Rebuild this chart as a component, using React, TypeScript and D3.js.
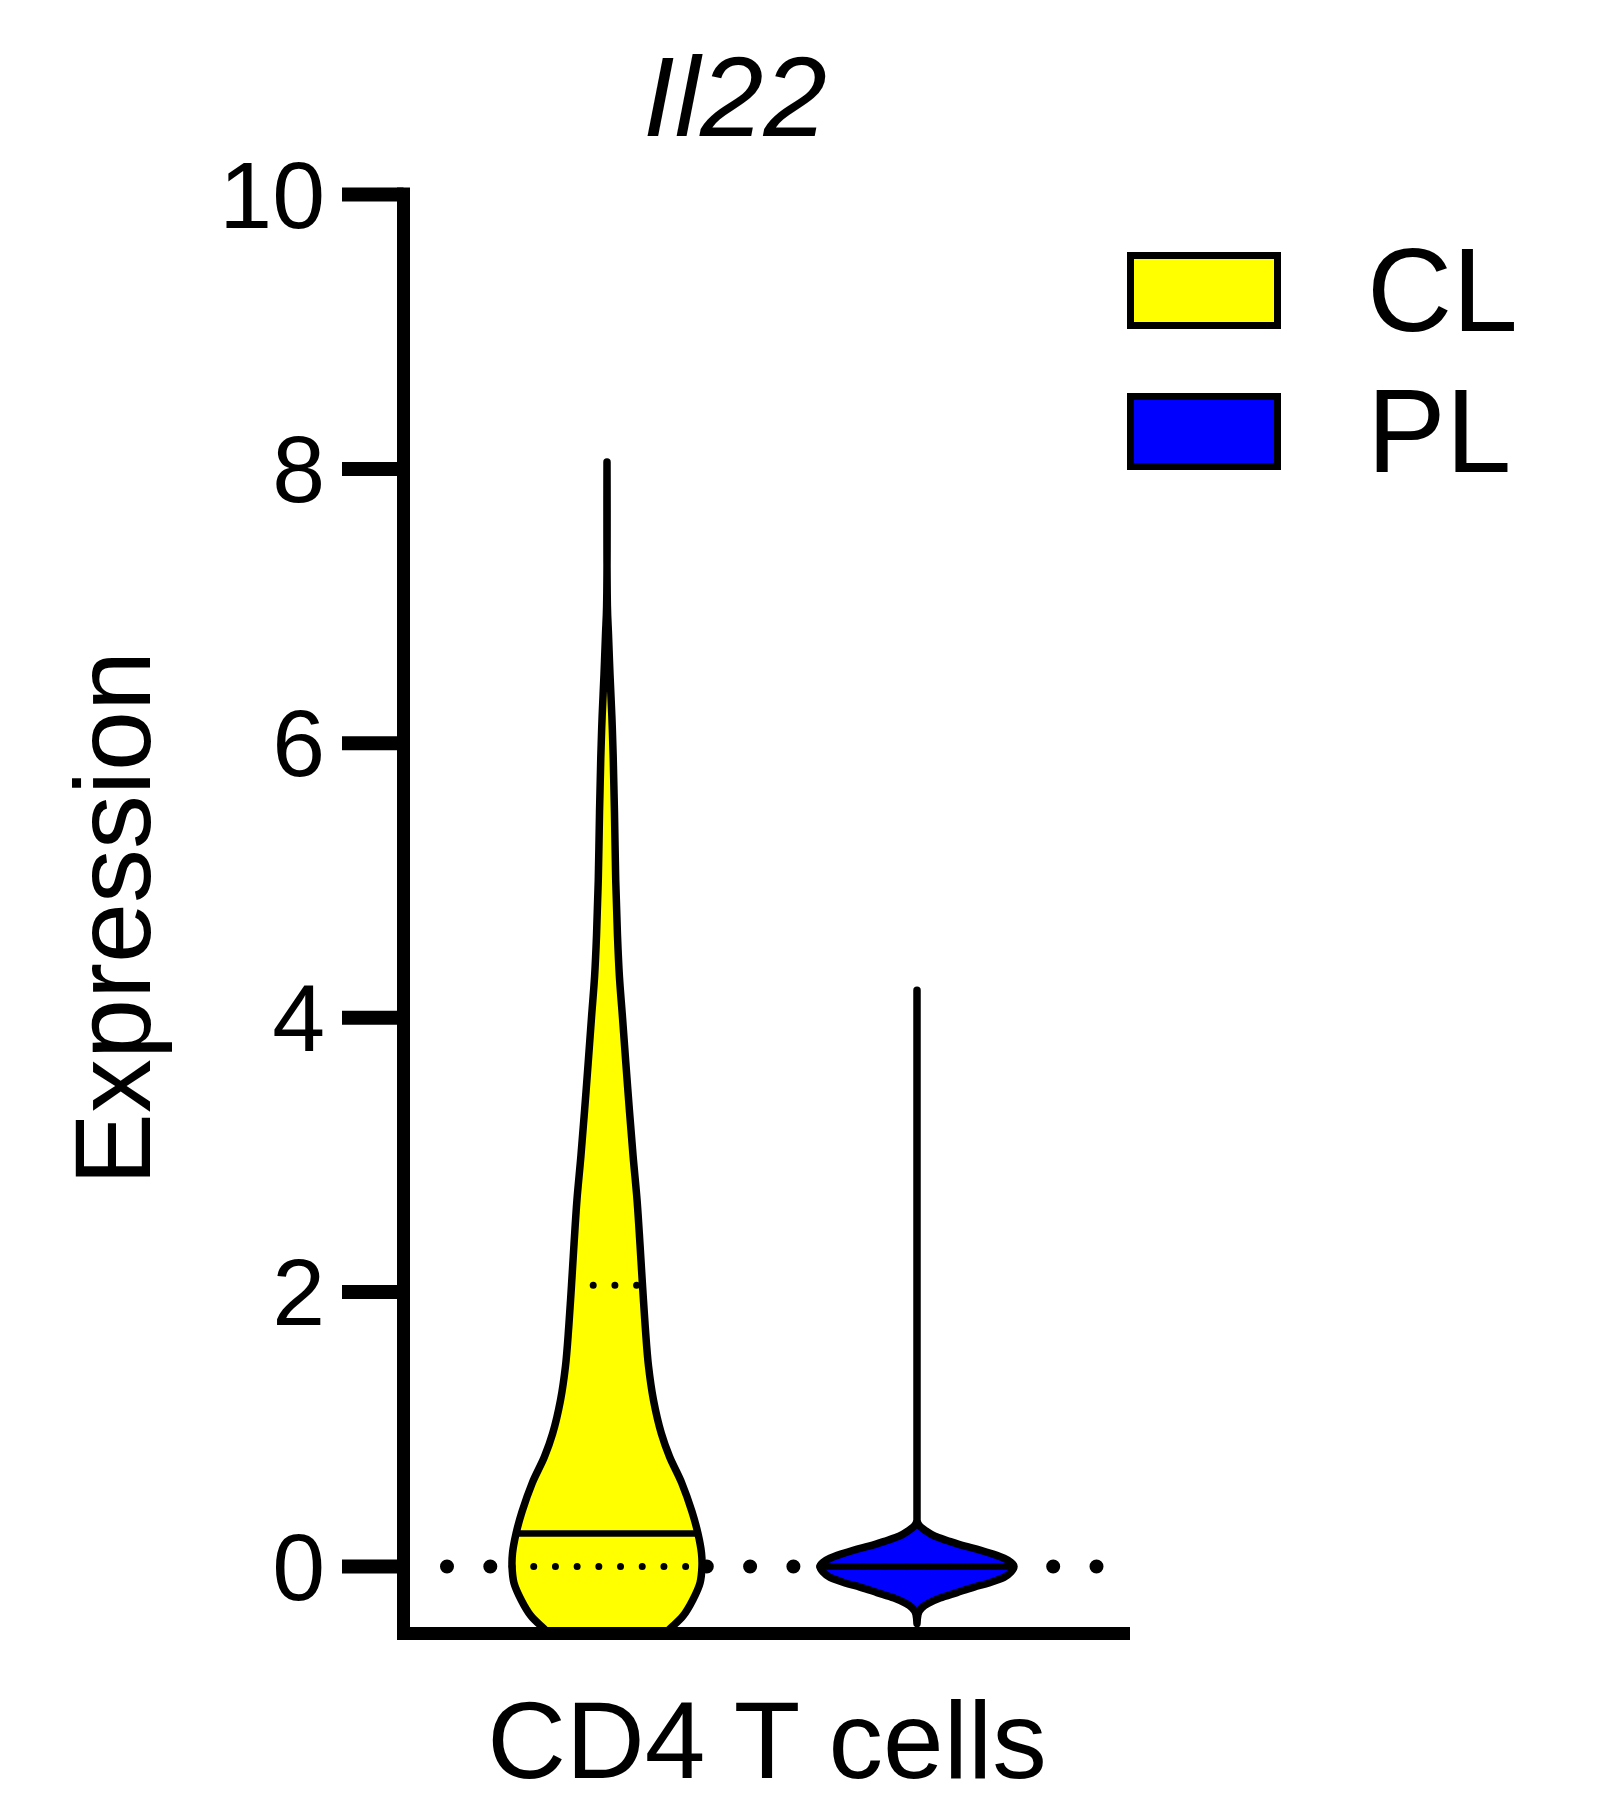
import React from "react";
import * as d3 from "d3";

// ---- data ----
const title = "Il22";
const groups = ["CL", "PL"];
const groupColors = ["#FFFF00", "#0000FF"];
const yTicks = [0, 2, 4, 6, 8, 10];
const xLabel = "CD4 T cells";
const yLabel = "Expression";

// CL violin: expression levels and relative density (max ~1)
const clLevels = [8.05, 7.0, 6.8, 6.5, 6.2, 5.9, 5.5, 5.0, 4.6, 4.3, 4.0, 3.5, 3.0, 2.67, 2.35, 2.05, 1.75, 1.46, 1.21, 0.97, 0.8, 0.61, 0.4, 0.24, 0.1, 0.0, -0.12, -0.24, -0.36, -0.46, -0.6];
const clDensity = [0, 0.004, 0.015, 0.031, 0.05, 0.064, 0.077, 0.09, 0.108, 0.128, 0.16, 0.212, 0.268, 0.31, 0.34, 0.366, 0.394, 0.428, 0.48, 0.56, 0.645, 0.77, 0.876, 0.938, 0.974, 0.979, 0.959, 0.887, 0.784, 0.639, 0.433];
const clStats = { median: 0.24, q1: 0, q3: 2.05 };

// PL violin
const plLevels = [4.2, 0.34, 0.3, 0.26, 0.22, 0.19, 0.15, 0.12, 0.09, 0.06, 0.03, 0.0, -0.04, -0.08, -0.12, -0.15, -0.19, -0.23, -0.27, -0.3, -0.35, -0.415];
const plDensity = [0, 0, 0.021, 0.09, 0.186, 0.309, 0.485, 0.65, 0.784, 0.897, 0.969, 1.0, 0.969, 0.897, 0.742, 0.588, 0.412, 0.237, 0.113, 0.052, 0.01, 0];
const plStats = { median: 0, q1: 0, q3: 0 };

const violins = [
  { group: "CL", levels: clLevels, density: clDensity, stats: clStats, smooth: true },
  { group: "PL", levels: plLevels, density: plDensity, stats: plStats, smooth: false },
];

const FONT = "'Liberation Sans', Arial, Helvetica, sans-serif";

export default function App() {
  const W = 1601;
  const H = 1800;
  const axisX = 403.5;
  const y = d3.scaleLinear().domain([-0.5, 10]).range([1635.1, 194.5]);
  const x = d3.scaleBand().domain(groups).range([452, 1072]);
  const w = d3.scaleLinear().domain([0, 1]).range([0, 97]);
  const color = d3.scaleOrdinal<string, string>().domain(groups).range(groupColors);
  const xAxisY = 1633.5;
  const xAxisEnd = 1130;

  return (
    <svg
      width={W}
      height={H}
      style={{ position: "absolute", left: 0, top: 0, background: "#fff" }}
      fontFamily={FONT}
    >
      <defs>
        <clipPath id="plotClip">
          <rect x={axisX} y={0} width={xAxisEnd - axisX} height={xAxisY} />
        </clipPath>
      </defs>
      <rect x={0} y={0} width={W} height={H} fill="#fff" />

      {/* title */}
      <text x={735} y={136} fontSize={114} fontStyle="italic" textAnchor="middle" fill="#000">
        {title}
      </text>

      {/* zero reference dotted line */}
      <line
        x1={447}
        x2={1097}
        y1={y(0)}
        y2={y(0)}
        stroke="#000"
        strokeWidth={14}
        strokeLinecap="round"
        strokeDasharray="0 43.3"
      />

      {/* violins */}
      <g clipPath="url(#plotClip)">
        {violins.map((v) => {
          const cx = (x(v.group) as number) + x.bandwidth() / 2;
          const pts = v.levels.map((l, i) => ({ l, d: v.density[i] }));
          const area = d3
            .area<{ l: number; d: number }>()
            .y((p) => y(p.l))
            .x0((p) => cx - w(p.d))
            .x1((p) => cx + w(p.d))
            .curve(v.smooth ? d3.curveCatmullRom.alpha(0.5) : d3.curveMonotoneY);
          const dens = d3.scaleLinear().domain(v.levels).range(v.density).clamp(true);
          const hw = (lv: number) => w(dens(lv));
          return (
            <g key={v.group}>
              <path
                d={area(pts) || ""}
                fill={color(v.group)}
                stroke="#000"
                strokeWidth={7.5}
                strokeLinejoin="round"
              />
              {[v.stats.q1, v.stats.q3].map((q, i) => (
                <line
                  key={i}
                  x1={cx - hw(q)}
                  x2={cx + hw(q)}
                  y1={y(q)}
                  y2={y(q)}
                  stroke="#000"
                  strokeWidth={7}
                  strokeLinecap="round"
                  strokeDasharray="0 21.7"
                />
              ))}
              <line
                x1={cx - hw(v.stats.median)}
                x2={cx + hw(v.stats.median)}
                y1={y(v.stats.median)}
                y2={y(v.stats.median)}
                stroke="#000"
                strokeWidth={6.5}
              />
            </g>
          );
        })}
      </g>

      {/* y axis */}
      <line x1={axisX} x2={axisX} y1={y(10) - 7} y2={xAxisY + 6.5} stroke="#000" strokeWidth={13} />
      {yTicks.map((t) => (
        <g key={t}>
          <line x1={342} x2={axisX} y1={y(t)} y2={y(t)} stroke="#000" strokeWidth={14} />
          <text x={325} y={y(t) + 33} fontSize={95} textAnchor="end" fill="#000">
            {t}
          </text>
        </g>
      ))}
      {/* x axis */}
      <line x1={axisX - 6.5} x2={xAxisEnd} y1={xAxisY} y2={xAxisY} stroke="#000" strokeWidth={13} />

      {/* axis labels */}
      <text x={767} y={1778} fontSize={109} textAnchor="middle" fill="#000">
        {xLabel}
      </text>
      <text
        transform={`translate(150, 918) rotate(-90)`}
        fontSize={108}
        textAnchor="middle"
        fill="#000"
      >
        {yLabel}
      </text>

      {/* legend */}
      {groups.map((g, i) => (
        <g key={g} transform={`translate(0, ${i * 141})`}>
          <rect x={1130.5} y={255.5} width={147} height={70} fill={color(g)} stroke="#000" strokeWidth={7} />
          <text x={1367} y={331} fontSize={118} fill="#000">
            {g}
          </text>
        </g>
      ))}
    </svg>
  );
}
